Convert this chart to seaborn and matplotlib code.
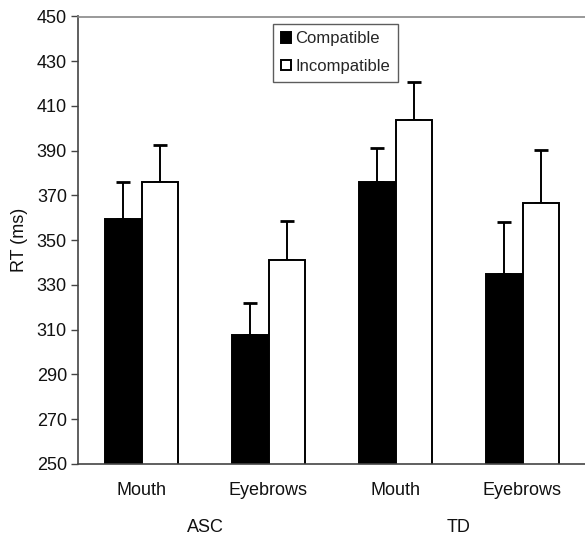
import matplotlib
matplotlib.use("Agg")
import matplotlib.pyplot as plt
import seaborn as sns
import pandas as pd
import numpy as np

groups = ["ASC", "ASC", "TD", "TD"]
regions = ["Mouth", "Eyebrows", "Mouth", "Eyebrows"]
conditions = ["Compatible", "Incompatible"]
compatible = [359.7, 307.8, 375.9, 334.8]
incompatible = [376.1, 341.2, 403.8, 366.5]
err_compatible = [16.2, 14.2, 15.4, 23.4]
err_incompatible = [16.5, 17.2, 16.9, 23.9]
yticks = list(range(250, 451, 20))

sns.set_style("white")
plt.rcParams["font.family"] = ["Liberation Sans", "DejaVu Sans"]

FS = 13

cats = [f"{g}_{r}_{i}" for i, (g, r) in enumerate(zip(groups, regions))]
df = pd.DataFrame({
    "cat": cats * 2,
    "cond": [conditions[0]] * 4 + [conditions[1]] * 4,
    "rt": compatible + incompatible,
    "err": err_compatible + err_incompatible,
})

fig = plt.figure(figsize=(5.85, 5.38), dpi=100)
ax = fig.add_axes([78 / 585, (538 - 464) / 538, (586 - 78) / 585, (464 - 16.5) / 538])

sns.barplot(data=df, x="cat", y="rt", hue="cond", order=cats, hue_order=conditions,
            palette={"Compatible": "black", "Incompatible": "white"},
            edgecolor="black", linewidth=1.4, width=0.58, errorbar=None,
            ax=ax, zorder=2)

# error bars (upward only)
for k, (vals, errs) in enumerate([(compatible, err_compatible),
                                  (incompatible, err_incompatible)]):
    cont = ax.containers[k]
    xs = [p.get_x() + p.get_width() / 2 for p in cont.patches]
    ax.errorbar(xs, vals, yerr=[np.zeros(len(errs)), errs], fmt="none",
                ecolor="black", elinewidth=1.4, capsize=5, capthick=2, zorder=1)

ax.set_ylim(250, 450)
ax.set_xlim(-0.5, 3.5)
ax.set_yticks(yticks)
ax.set_yticklabels([str(t) for t in yticks], fontsize=FS, color="#111111")
ax.set_xticks(range(4))
ax.set_xticklabels(regions, fontsize=FS, color="#111111")
ax.set_xticks([-0.5, 0.5, 1.5, 2.5, 3.5], minor=True)
ax.tick_params(axis="x", which="major", length=0, pad=13)
ax.tick_params(axis="x", which="minor", length=4, direction="out", color="#444444", width=1)
ax.tick_params(axis="y", which="major", length=5, direction="out", color="#444444", width=1,
               left=True, pad=3)
ax.set_xlabel("")
ax.set_ylabel("RT (ms)", fontsize=FS, color="#111111", labelpad=6)

for s in ["left", "bottom"]:
    ax.spines[s].set_color("#444444")
    ax.spines[s].set_linewidth(1.2)
ax.spines["top"].set_color("#888888")
ax.spines["top"].set_linewidth(1.2)
ax.spines["right"].set_visible(False)

# group labels
ax.text(0.5, -0.143, "ASC", transform=ax.get_xaxis_transform(), ha="center", va="center",
        fontsize=FS, color="#111111")
ax.text(2.5, -0.143, "TD", transform=ax.get_xaxis_transform(), ha="center", va="center",
        fontsize=FS, color="#111111")

leg = ax.legend(loc="upper left", bbox_to_anchor=((273 - 78) / 508, (464 - 24) / 447.5),
                fontsize=12, frameon=True, fancybox=False, edgecolor="#333333",
                handlelength=0.6, handleheight=0.6, handletextpad=0.3,
                borderpad=0.45, labelspacing=0.75, borderaxespad=0)
leg.get_frame().set_linewidth(1.0)
leg.set_title(None)

fig.savefig("out.png", dpi=100)
